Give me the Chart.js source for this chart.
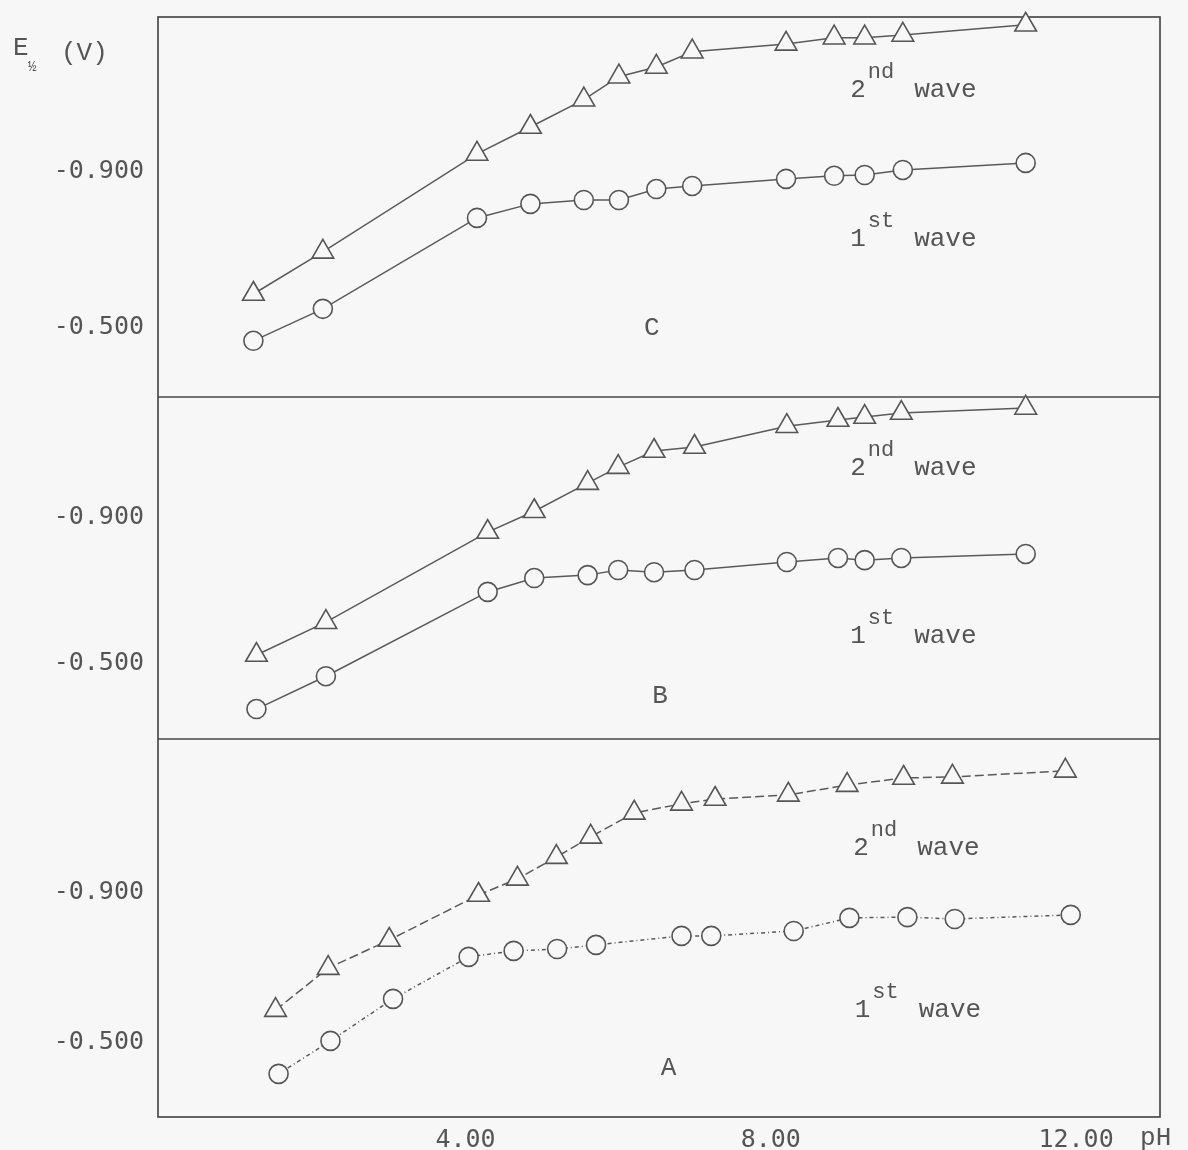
<!DOCTYPE html>
<html>
<head>
<meta charset="utf-8">
<script src="https://cdn.jsdelivr.net/npm/chart.js@4.4.1/dist/chart.umd.min.js"></script>
<style>
  html, body { margin: 0; padding: 0; background: #f7f7f7; }
  #wrap { position: relative; width: 1188px; height: 1150px; }
</style>
</head>
<body>
<div id="wrap"><canvas id="chart" width="1188" height="1150"></canvas></div>
<script>
// pH values and half-wave potentials E1/2 (V) (C top, B middle, A bottom)
const phC = [1.22, 2.13, 4.15, 4.85, 5.55, 6.01, 6.5, 6.97, 8.2, 8.83, 9.23, 9.73, 11.34];
const secondWaveC = [-0.587, -0.695, -0.946, -1.015, -1.085, -1.144, -1.169, -1.208, -1.228, -1.244, -1.244, -1.251, -1.277];
const firstWaveC = [-0.467, -0.549, -0.782, -0.818, -0.828, -0.828, -0.856, -0.864, -0.882, -0.890, -0.892, -0.905, -0.923];

const phB = [1.26, 2.17, 4.29, 4.9, 5.6, 6.0, 6.47, 7.0, 8.21, 8.88, 9.23, 9.71, 11.34];
const secondWaveB = [-0.522, -0.612, -0.859, -0.916, -0.993, -1.037, -1.081, -1.092, -1.149, -1.166, -1.174, -1.185, -1.199];
const firstWaveB = [-0.374, -0.464, -0.695, -0.733, -0.741, -0.755, -0.749, -0.755, -0.777, -0.788, -0.782, -0.788, -0.799];

const phA2 = [1.51, 2.2, 3.0, 4.17, 4.68, 5.19, 5.64, 6.21, 6.83, 7.27, 8.23, 9.0, 9.74, 10.38, 11.86];
const secondWaveA = [-0.585, -0.697, -0.772, -0.892, -0.935, -0.993, -1.047, -1.111, -1.135, -1.148, -1.159, -1.185, -1.204, -1.207, -1.223];
const phA1 = [1.55, 2.23, 3.05, 4.04, 4.63, 5.2, 5.71, 6.83, 7.22, 8.3, 9.03, 9.79, 10.41, 11.93];
const firstWaveA = [-0.415, -0.503, -0.615, -0.727, -0.743, -0.748, -0.759, -0.783, -0.783, -0.796, -0.831, -0.833, -0.828, -0.839];

const xTicks = [4, 8, 12];
const yTicks = [-0.9, -0.5];

const INK = '#555555';
const PAPER = '#f7f7f7';
const MONO = '"Liberation Mono", "Courier New", monospace';
const NUMS = '"DejaVu Sans Mono", monospace';

// text placed inside the panels, in data units of each panel
const waveLabels = [
  { axis: 'yC', ph: 9.04, e: -1.092, num: '2', sup: 'nd' },
  { axis: 'yC', ph: 9.04, e: -0.710, num: '1', sup: 'st' },
  { axis: 'yB', ph: 9.04, e: -1.015, num: '2', sup: 'nd' },
  { axis: 'yB', ph: 9.04, e: -0.555, num: '1', sup: 'st' },
  { axis: 'yA', ph: 9.08, e: -0.999, num: '2', sup: 'nd' },
  { axis: 'yA', ph: 9.10, e: -0.567, num: '1', sup: 'st' }
];
const panelLetters = [
  { axis: 'yC', ph: 6.44, e: -0.500, text: 'C' },
  { axis: 'yB', ph: 6.55, e: -0.410, text: 'B' },
  { axis: 'yA', ph: 6.66, e: -0.431, text: 'A' }
];

const wave = (label, axis, ph, values, style, dash) => ({
  label,
  yAxisID: axis,
  data: ph.map((p, i) => ({ x: p, y: values[i] })),
  showLine: true,
  tension: 0,
  borderColor: '#5a5a5a',
  borderWidth: 1.5,
  borderDash: dash,
  pointStyle: style,
  pointRadius: style === 'triangle' ? 12.5 : 9.5,
  pointHoverRadius: style === 'triangle' ? 12.5 : 9.5,
  pointBackgroundColor: PAPER,
  pointBorderColor: INK,
  pointBorderWidth: 1.6,
  clip: false
});

const yPanel = (min, max, stackWeight, weight) => ({
  type: 'linear',
  position: 'left',
  stack: 'panels',
  stackWeight,
  weight,
  reverse: true,
  min,
  max,
  grid: { display: false, drawTicks: false },
  border: { display: false },
  afterBuildTicks: (s) => { s.ticks = yTicks.map((v) => ({ value: v })); },
  afterFit: (s) => {
    s.width = 158;
    s.paddingTop = 0;
    s.paddingBottom = 0;
  },
  ticks: {
    padding: 14,
    color: INK,
    font: { family: NUMS, size: 25 },
    callback: (v) => Number(v).toFixed(3)
  }
});

// outer frame and the two panel separators
const panelFrame = {
  id: 'panelFrame',
  beforeDatasetsDraw(chart) {
    const { ctx, chartArea: a, scales } = chart;
    ctx.save();
    ctx.strokeStyle = '#4a4a4a';
    ctx.lineWidth = 1.7;
    ctx.strokeRect(a.left, a.top, a.right - a.left, a.bottom - a.top);
    ctx.beginPath();
    ['yC', 'yB', 'yA'].forEach((id) => {
      [scales[id].top, scales[id].bottom].forEach((y) => {
        if (y > a.top + 2 && y < a.bottom - 2) {
          ctx.moveTo(a.left, y);
          ctx.lineTo(a.right, y);
        }
      });
    });
    ctx.stroke();
    ctx.restore();
  },
  afterDraw(chart) {
    const { ctx, chartArea: a, scales } = chart;
    const xs = scales.x;
    ctx.save();
    ctx.fillStyle = INK;
    ctx.textAlign = 'left';
    ctx.textBaseline = 'alphabetic';

    waveLabels.forEach((l) => {
      const x = xs.getPixelForValue(l.ph);
      const y = scales[l.axis].getPixelForValue(l.e);
      ctx.font = `26px ${MONO}`;
      ctx.fillText(l.num, x, y);
      const w = ctx.measureText(l.num).width;
      ctx.font = `22px ${MONO}`;
      ctx.fillText(l.sup, x + w + 2, y - 19);
      ctx.font = `26px ${MONO}`;
      ctx.fillText('wave', x + 64, y);
    });

    ctx.textAlign = 'center';
    ctx.textBaseline = 'middle';
    ctx.font = `26px ${MONO}`;
    panelLetters.forEach((l) => {
      ctx.fillText(l.text, xs.getPixelForValue(l.ph), scales[l.axis].getPixelForValue(l.e));
    });

    // axis titles
    ctx.textAlign = 'left';
    ctx.textBaseline = 'alphabetic';
    ctx.font = `26px ${MONO}`;
    ctx.fillText('E', a.left - 145, a.top + 38);
    ctx.font = `14px ${MONO}`;
    ctx.fillText('½', a.left - 130, a.top + 54);
    ctx.font = `26px ${MONO}`;
    ctx.fillText('(V)', a.left - 97, a.top + 43);

    ctx.textBaseline = 'middle';
    ctx.fillText('pH', xs.getPixelForValue(12) + 64, a.bottom + 21);
    ctx.restore();
  }
};

new Chart(document.getElementById('chart'), {
  type: 'scatter',
  data: {
    datasets: [
      wave('2nd wave C', 'yC', phC, secondWaveC, 'triangle'),
      wave('1st wave C', 'yC', phC, firstWaveC, 'circle'),
      wave('2nd wave B', 'yB', phB, secondWaveB, 'triangle'),
      wave('1st wave B', 'yB', phB, firstWaveB, 'circle'),
      wave('2nd wave A', 'yA', phA2, secondWaveA, 'triangle', [9, 4]),
      wave('1st wave A', 'yA', phA1, firstWaveA, 'circle', [4, 3, 1, 3])
    ]
  },
  options: {
    responsive: false,
    animation: false,
    layout: { padding: { top: 17, right: 28, left: 0, bottom: 0 } },
    plugins: {
      legend: { display: false },
      tooltip: { enabled: false }
    },
    scales: {
      x: {
        type: 'linear',
        min: -0.03,
        max: 13.1,
        grid: { display: false, drawTicks: false },
        border: { display: false },
        afterBuildTicks: (s) => { s.ticks = xTicks.map((v) => ({ value: v })); },
        afterFit: (s) => {
          s.height = 33;
          s.paddingLeft = 0;
          s.paddingRight = 0;
        },
        ticks: {
          padding: 8,
          maxRotation: 0,
          autoSkip: false,
          color: INK,
          font: { family: NUMS, size: 25 },
          callback: (v) => Number(v).toFixed(2)
        }
      },
      yC: yPanel(-1.297, -0.323, 380, 3),
      yB: yPanel(-1.229, -0.292, 342, 2),
      yA: yPanel(-1.308, -0.300, 378, 1)
    }
  },
  plugins: [panelFrame]
});
</script>
</body>
</html>
